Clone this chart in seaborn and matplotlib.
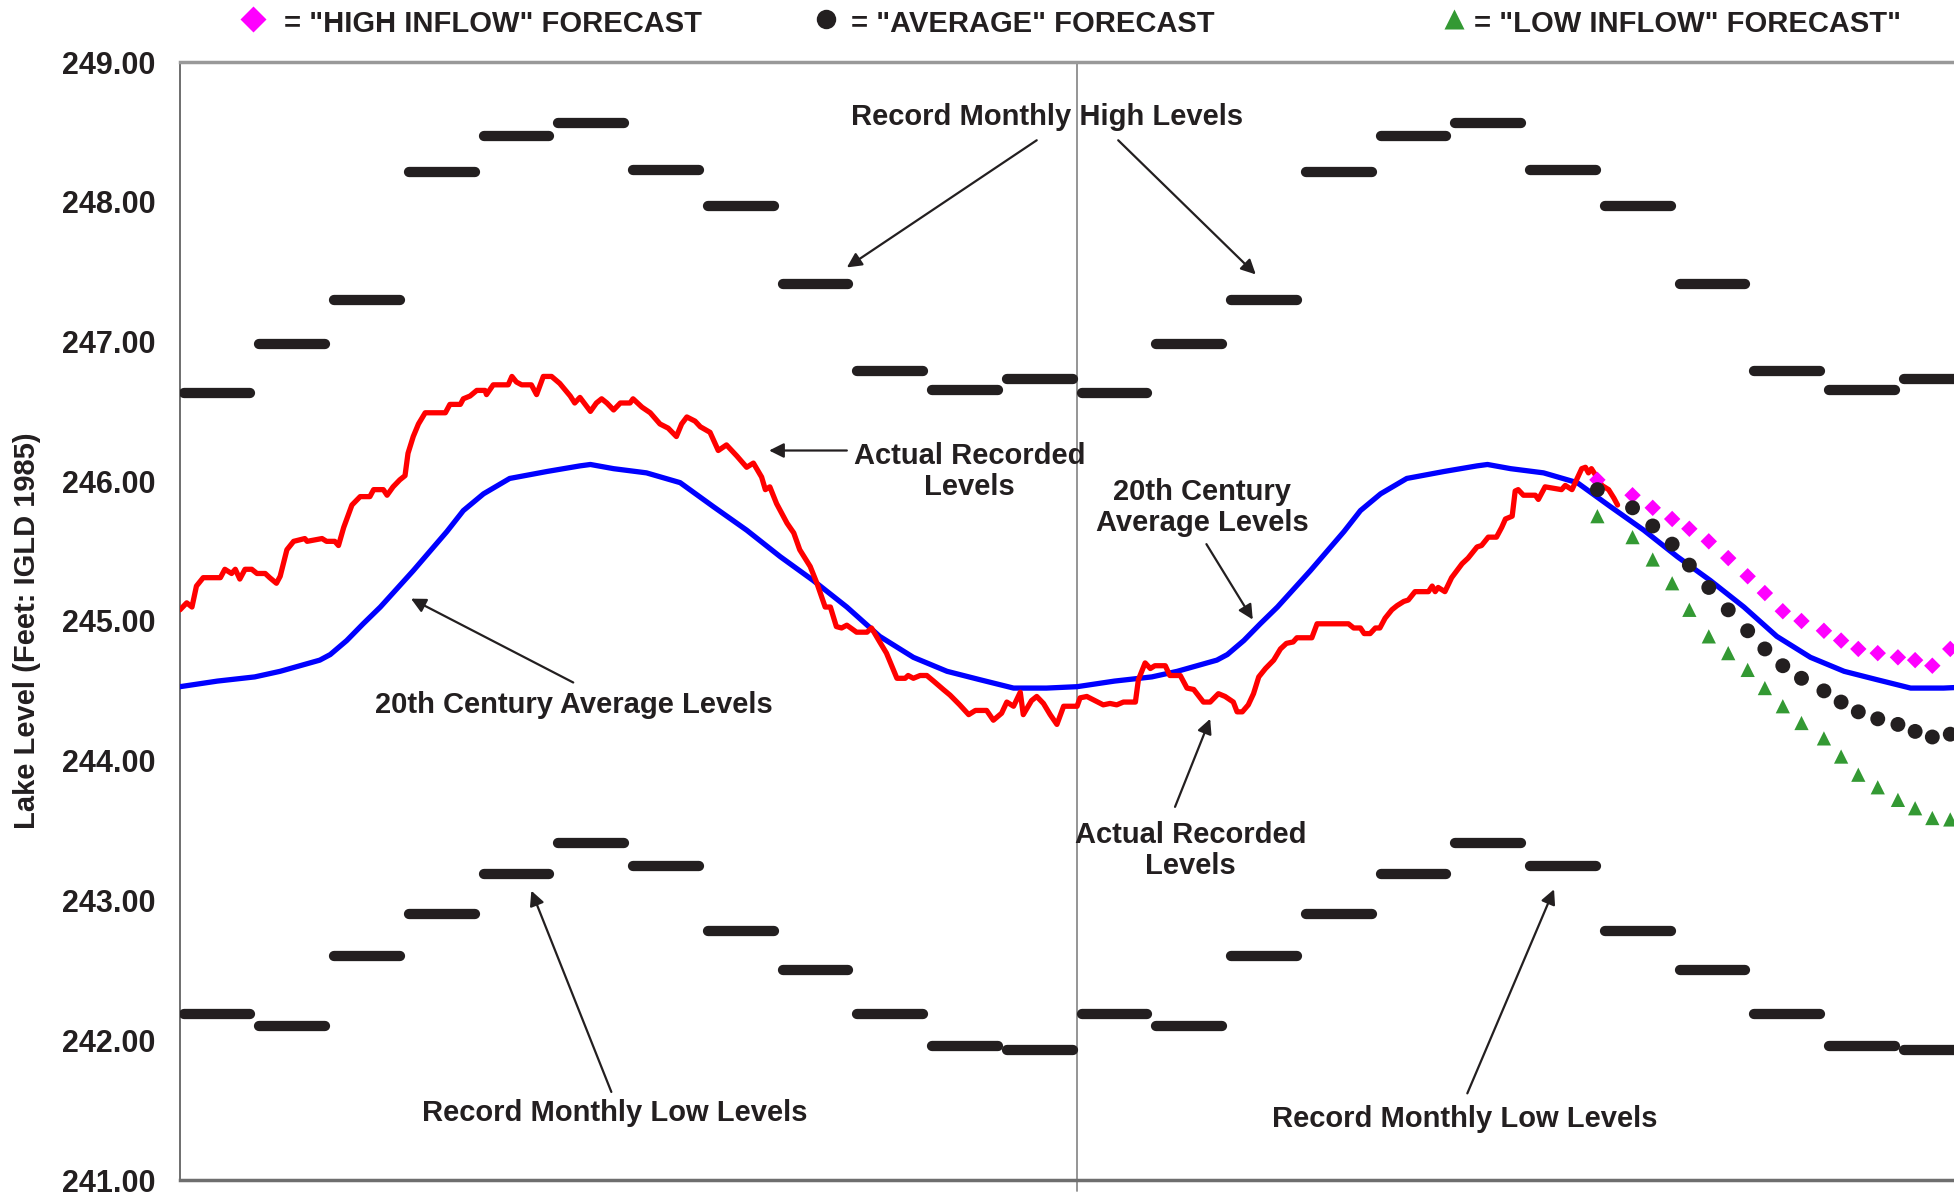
import numpy as np
import pandas as pd
import matplotlib
matplotlib.use("Agg")
import matplotlib.pyplot as plt
import seaborn as sns

# Record monthly highs / lows (Jan..Dec), same for both years
rec_high = [246.63, 246.98, 247.30, 248.21, 248.47, 248.56,
            248.23, 247.97, 247.41, 246.79, 246.65, 246.73]
rec_low = [242.19, 242.10, 242.60, 242.90, 243.19, 243.41,
           243.25, 242.78, 242.50, 242.19, 241.96, 241.93]

# 20th century average level over one year (month, feet)
avg_month = [0.00, 0.50, 1.00, 1.34, 1.87, 2.01, 2.23, 2.45, 2.68, 3.12, 3.57, 3.79,
             4.06, 4.41, 4.91, 5.35, 5.49, 5.80, 6.24, 6.69, 7.13, 7.58, 8.03, 8.47,
             8.92, 9.36, 9.81, 10.26, 10.70, 11.15, 11.59, 12.00]
avg_level = [244.53, 244.57, 244.60, 244.64, 244.72, 244.76, 244.86, 244.98, 245.10, 245.36, 245.64, 245.79,
             245.91, 246.02, 246.07, 246.11, 246.12, 246.09, 246.06, 245.99, 245.82, 245.65, 245.46, 245.29,
             245.10, 244.89, 244.74, 244.64, 244.58, 244.52, 244.52, 244.53]

# actual recorded levels (month since start, feet)
actual = [(0.00, 245.08), (0.09, 245.13), (0.16, 245.10), (0.22, 245.25), (0.31, 245.31), (0.54, 245.31),
          (0.60, 245.37), (0.69, 245.34), (0.74, 245.37), (0.80, 245.30), (0.87, 245.37), (0.96, 245.37),
          (1.03, 245.34), (1.14, 245.34), (1.20, 245.31), (1.29, 245.27), (1.34, 245.32), (1.43, 245.51),
          (1.52, 245.57), (1.67, 245.59), (1.70, 245.57), (1.90, 245.59), (1.96, 245.57), (2.07, 245.57),
          (2.12, 245.54), (2.19, 245.67), (2.30, 245.83), (2.41, 245.89), (2.54, 245.89), (2.59, 245.94),
          (2.72, 245.94), (2.77, 245.90), (2.85, 245.96), (2.94, 246.01), (3.01, 246.04), (3.05, 246.20),
          (3.12, 246.32), (3.19, 246.41), (3.28, 246.49), (3.55, 246.49), (3.61, 246.55), (3.75, 246.55),
          (3.79, 246.59), (3.88, 246.61), (3.97, 246.65), (4.08, 246.65), (4.10, 246.62), (4.19, 246.69),
          (4.39, 246.69), (4.44, 246.75), (4.50, 246.71), (4.57, 246.69), (4.70, 246.69), (4.77, 246.62),
          (4.86, 246.75), (4.97, 246.75), (5.08, 246.70), (5.22, 246.61), (5.28, 246.56), (5.35, 246.60),
          (5.49, 246.50), (5.57, 246.56), (5.64, 246.59), (5.71, 246.56), (5.80, 246.51), (5.89, 246.56),
          (6.02, 246.56), (6.06, 246.59), (6.18, 246.53), (6.29, 246.49), (6.42, 246.41), (6.53, 246.38),
          (6.64, 246.32), (6.71, 246.41), (6.78, 246.46), (6.89, 246.43), (6.96, 246.39), (7.09, 246.35),
          (7.20, 246.22), (7.31, 246.26), (7.45, 246.18), (7.58, 246.10), (7.67, 246.13), (7.78, 246.03),
          (7.83, 245.94), (7.89, 245.96), (7.98, 245.84), (8.12, 245.70), (8.21, 245.63), (8.29, 245.51),
          (8.43, 245.39), (8.52, 245.27), (8.63, 245.10), (8.70, 245.10), (8.78, 244.96), (8.85, 244.95),
          (8.92, 244.97), (9.05, 244.92), (9.19, 244.92), (9.25, 244.95), (9.36, 244.85), (9.45, 244.77),
          (9.59, 244.59), (9.70, 244.59), (9.74, 244.61), (9.81, 244.59), (9.90, 244.61), (9.99, 244.61),
          (10.08, 244.57), (10.21, 244.51), (10.30, 244.47), (10.43, 244.40), (10.55, 244.33), (10.64, 244.36),
          (10.70, 244.36), (10.79, 244.36), (10.88, 244.29), (10.99, 244.34), (11.06, 244.42), (11.15, 244.39),
          (11.24, 244.49), (11.28, 244.33), (11.39, 244.43), (11.46, 244.46), (11.55, 244.41), (11.64, 244.33),
          (11.73, 244.26), (11.82, 244.39), (12.00, 244.39), (12.04, 244.45), (12.13, 244.46), (12.24, 244.43),
          (12.35, 244.40), (12.44, 244.41), (12.53, 244.40), (12.62, 244.42), (12.78, 244.42), (12.82, 244.58),
          (12.91, 244.70), (12.98, 244.66), (13.04, 244.68), (13.18, 244.68), (13.24, 244.61), (13.38, 244.61),
          (13.47, 244.52), (13.56, 244.51), (13.69, 244.42), (13.78, 244.42), (13.89, 244.48), (13.98, 244.46),
          (14.09, 244.42), (14.14, 244.35), (14.21, 244.35), (14.29, 244.40), (14.36, 244.48), (14.43, 244.60),
          (14.52, 244.66), (14.63, 244.72), (14.72, 244.80), (14.80, 244.84), (14.89, 244.85), (14.94, 244.88),
          (15.14, 244.88), (15.21, 244.98), (15.63, 244.98), (15.70, 244.95), (15.79, 244.95), (15.84, 244.91),
          (15.92, 244.91), (15.99, 244.95), (16.05, 244.95), (16.12, 245.02), (16.21, 245.08), (16.28, 245.11),
          (16.37, 245.14), (16.43, 245.15), (16.52, 245.21), (16.70, 245.21), (16.75, 245.25), (16.79, 245.21),
          (16.83, 245.24), (16.92, 245.21), (17.01, 245.31), (17.15, 245.41), (17.23, 245.45), (17.35, 245.53),
          (17.41, 245.54), (17.50, 245.60), (17.61, 245.60), (17.68, 245.67), (17.73, 245.73), (17.82, 245.75),
          (17.86, 245.93), (17.90, 245.94), (17.97, 245.90), (18.13, 245.90), (18.17, 245.87), (18.26, 245.96),
          (18.48, 245.94), (18.53, 245.97), (18.62, 245.94), (18.75, 246.09), (18.80, 246.10), (18.84, 246.06),
          (18.88, 246.09), (18.94, 246.04), (19.02, 245.97), (19.11, 245.94), (19.18, 245.88), (19.23, 245.83)]

# forecasts, roughly weekly
fc_month = [18.96, 19.43, 19.70, 19.96, 20.19, 20.45, 20.71, 20.97, 21.20, 21.44,
            21.69, 21.99, 22.22, 22.45, 22.71, 22.98, 23.21, 23.44, 23.68]
fc_high = [246.01, 245.90, 245.81, 245.73, 245.66, 245.57, 245.45, 245.32, 245.20, 245.07,
           245.00, 244.93, 244.86, 244.80, 244.77, 244.74, 244.72, 244.68, 244.80]
fc_avg = [245.94, 245.81, 245.68, 245.55, 245.40, 245.24, 245.08, 244.93, 244.80, 244.68,
          244.59, 244.50, 244.42, 244.35, 244.30, 244.26, 244.21, 244.17, 244.19]
fc_low = [245.75, 245.60, 245.44, 245.27, 245.08, 244.89, 244.77, 244.65, 244.52, 244.39,
          244.27, 244.16, 244.03, 243.90, 243.81, 243.72, 243.66, 243.59, 243.58]

sns.set_style("white")
plt.rcParams["font.family"] = ["Liberation Sans", "DejaVu Sans"]
plt.rcParams["font.weight"] = "bold"
TXT = "#231F20"
FS = 21

fig = plt.figure(figsize=(19.54, 11.95), dpi=100)
ax = fig.add_axes([180 / 1954, 1 - 1180 / 1195, 1 - 180 / 1954, (1180 - 62) / 1195])

# record highs and lows as month-long bars
for yr in (0, 12):
    m = np.arange(12) + yr
    for vals in (rec_high, rec_low):
        lc = ax.hlines(vals, m + 0.06, m + 0.94, color=TXT, lw=7.4, zorder=3)
        lc.set_capstyle("round")

# 20th century average, two years
avg = pd.DataFrame({"month": avg_month + [m + 12 for m in avg_month],
                    "level": avg_level + avg_level})
sns.lineplot(data=avg, x="month", y="level", color="#0000FF", lw=3.8,
             sort=False, estimator=None, ax=ax, zorder=4)

act = pd.DataFrame(actual, columns=["month", "level"])
sns.lineplot(data=act, x="month", y="level", color="#FF0000", lw=3.8,
             sort=False, estimator=None, ax=ax, zorder=5)

sns.scatterplot(x=fc_month, y=fc_high, marker="D", color="#FF00FF", s=70,
                edgecolor="none", ax=ax, zorder=6)
sns.scatterplot(x=fc_month, y=fc_avg, marker="o", color=TXT, s=115,
                edgecolor="none", ax=ax, zorder=6)
sns.scatterplot(x=fc_month, y=fc_low, marker="^", color="#339933", s=105,
                edgecolor="none", ax=ax, zorder=6)

ax.axvline(12, color="#8C8C8C", lw=1.3, zorder=1, ymin=-0.01, clip_on=False)

ax.set_xlim(0, 23.73)
ax.set_ylim(241, 249)
ax.set_yticks(np.arange(241, 250))
ax.set_yticklabels([f"{v:.2f}" for v in np.arange(241, 250)], fontsize=22,
                   fontweight="bold", color=TXT)
ax.set_xticks([0, 12])
ax.set_xticklabels([])
ax.tick_params(axis="y", direction="inout", length=13, width=1, color="#555555", pad=11)
ax.tick_params(axis="x", direction="out", length=7, width=1.2, color="#777777")
ax.set_xlabel("")
ax.set_ylabel("")
ax.spines["right"].set_visible(False)
ax.spines["top"].set_color("#999999")
ax.spines["top"].set_linewidth(2.5)
ax.spines["bottom"].set_color("#6E6E6E")
ax.spines["bottom"].set_linewidth(2.5)
ax.spines["left"].set_color("#555555")
ax.spines["left"].set_linewidth(1.2)

fig.text(27 / 1954, 1 - 631 / 1195, "Lake Level (Feet: IGLD 1985)", rotation=90,
         ha="center", va="center", fontsize=FS, fontweight="bold", color=TXT)

# top legend
leg_y = 1 - 24 / 1195
legend = [(253, "D", "#FF00FF", 13, 284, '= "HIGH INFLOW" FORECAST'),
          (826, "o", TXT, 14, 851, '= "AVERAGE" FORECAST'),
          (1454, "^", "#339933", 14, 1474, '= "LOW INFLOW" FORECAST"')]
for mx, mk, col, ms, tx, label in legend:
    fig.add_artist(plt.Line2D([mx / 1954], [leg_y + 0.004], marker=mk, color=col, ms=ms,
                              mec="none", transform=fig.transFigure))
    fig.text(tx / 1954, leg_y, label, ha="left", va="center", fontsize=FS,
             fontweight="bold", color=TXT)

arrow = dict(arrowstyle="-|>", color=TXT, lw=1.6, mutation_scale=22, shrinkA=0, shrinkB=0)


def note(text, xy_text, tails_heads):
    ax.text(*xy_text, text, ha="center", va="center", fontsize=FS,
            fontweight="bold", color=TXT, linespacing=1.15, zorder=7)
    for tail, head in tails_heads:
        ax.annotate("", xy=head, xytext=tail, arrowprops=arrow, zorder=7)


note("Record Monthly High Levels", (11.60, 248.61),
     [((11.46, 248.44), (8.92, 247.53)), ((12.55, 248.44), (14.39, 247.48))])
note("Actual Recorded\nLevels", (10.56, 246.07), [((8.92, 246.22), (7.88, 246.22))])
note("20th Century Average Levels", (5.27, 244.40), [((5.26, 244.56), (3.09, 245.16))])
note("20th Century\nAverage Levels", (13.67, 245.81), [((13.73, 245.55), (14.35, 245.01))])
note("Actual Recorded\nLevels", (13.52, 243.36), [((13.31, 243.67), (13.78, 244.30))])
note("Record Monthly Low Levels", (5.81, 241.48), [((5.77, 241.63), (4.70, 243.07))])
note("Record Monthly Low Levels", (17.18, 241.44), [((17.22, 241.62), (18.38, 243.08))])

fig.savefig("out.png", dpi=100)
